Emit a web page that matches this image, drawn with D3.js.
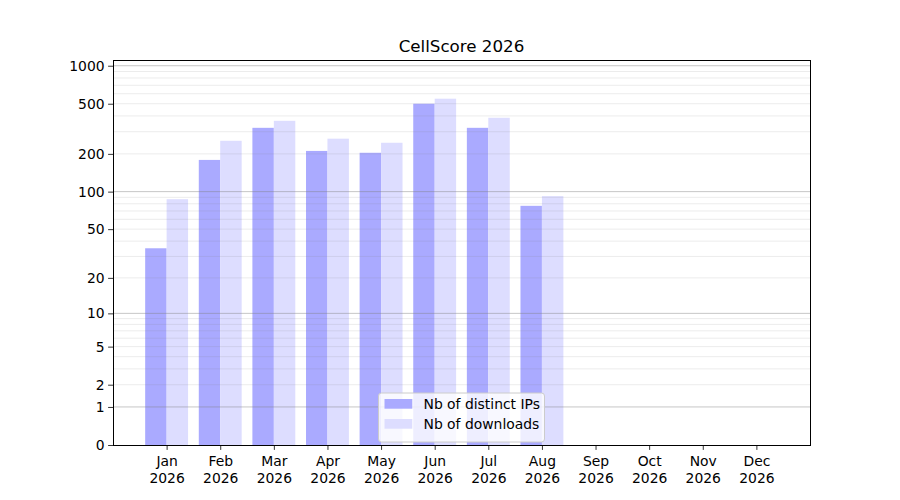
<!DOCTYPE html>
<html>
<head>
<meta charset="utf-8">
<script src="https://cdn.jsdelivr.net/npm/d3@7"></script>
<style>
    body { margin: 0; background: #fff; }
    text { font-family: "DejaVu Sans", sans-serif; fill: #000; }
</style>
</head>
<body>
<div id="chart"></div>
<script>
const MONTHS = ["Jan", "Feb", "Mar", "Apr", "May", "Jun", "Jul", "Aug", "Sep", "Oct", "Nov", "Dec"];
const YEAR = "2026";
const DISTINCT_IPS = [35, 179, 322, 211, 204, 500, 322, 77];
const DOWNLOADS = [87, 254, 366, 264, 245, 548, 387, 92];
const Y_TICKS = [0, 1, 2, 5, 10, 20, 50, 100, 200, 500, 1000];
const MAJOR_GRID = [1, 10, 100, 1000];
const MINOR_GRID = [2, 3, 4, 5, 6, 7, 8, 9, 20, 30, 40, 50, 60, 70, 80, 90,
    200, 300, 400, 500, 600, 700, 800, 900];

const width = 900;
const height = 500;
const margin = { top: 60, right: 90, bottom: 55, left: 113 };
const plotWidth = width - margin.left - margin.right;
const plotHeight = height - margin.top - margin.bottom;

const svg = d3.select("#chart").append("svg")
    .attr("width", width)
    .attr("height", height);

const nullpoint = svg.append("g")
    .attr("transform", `translate(${margin.left}, ${margin.top})`);

const xScale = d3.scaleLinear()
    .domain([-1, 12])
    .range([0, plotWidth]);

const yScale = d3.scaleSymlog()
    .constant(1)
    .domain([0, 1110])
    .range([plotHeight, 0]);

const barWidth = xScale(0.4) - xScale(0);

// bars
nullpoint.selectAll(".ips")
    .data(DISTINCT_IPS)
    .enter()
    .append("rect")
    .attr("class", "ips")
    .attr("x", (d, i) => xScale(i - 0.4))
    .attr("y", d => yScale(d))
    .attr("width", barWidth)
    .attr("height", d => plotHeight - yScale(d))
    .style("fill", "#aaaaff");

nullpoint.selectAll(".downloads")
    .data(DOWNLOADS)
    .enter()
    .append("rect")
    .attr("class", "downloads")
    .attr("x", (d, i) => xScale(i))
    .attr("y", d => yScale(d))
    .attr("width", barWidth)
    .attr("height", d => plotHeight - yScale(d))
    .style("fill", "#ddddff");

// grid on top of bars like matplotlib
nullpoint.selectAll(".minor-grid")
    .data(MINOR_GRID)
    .enter()
    .append("line")
    .attr("x1", 0)
    .attr("x2", plotWidth)
    .attr("y1", d => yScale(d))
    .attr("y2", d => yScale(d))
    .attr("stroke", "#808080")
    .attr("stroke-opacity", 0.15)
    .attr("stroke-width", 1);

nullpoint.selectAll(".major-grid")
    .data(MAJOR_GRID)
    .enter()
    .append("line")
    .attr("x1", 0)
    .attr("x2", plotWidth)
    .attr("y1", d => yScale(d))
    .attr("y2", d => yScale(d))
    .attr("stroke", "#808080")
    .attr("stroke-opacity", 0.45)
    .attr("stroke-width", 1);

// axes
const xAxis = nullpoint.append("g")
    .attr("transform", `translate(0, ${plotHeight})`)
    .call(d3.axisBottom(xScale)
        .tickValues(d3.range(MONTHS.length))
        .tickSize(4.9)
        .tickPadding(3.5)
        .tickFormat(""));

xAxis.selectAll(".tick").append("text")
    .attr("y", 21)
    .attr("text-anchor", "middle")
    .style("font-size", "13.9px")
    .selectAll("tspan")
    .data(i => [MONTHS[i], YEAR])
    .enter()
    .append("tspan")
    .attr("x", 0)
    .attr("dy", (d, j) => j === 0 ? 0 : "1.2em")
    .text(d => d);

const yAxis = nullpoint.append("g")
    .call(d3.axisLeft(yScale)
        .tickValues(Y_TICKS)
        .tickSize(4.9)
        .tickPadding(3.5)
        .tickFormat(d3.format("d")));

[xAxis, yAxis].forEach(ax => {
    ax.select(".domain").remove();
    ax.selectAll(".tick line").attr("stroke", "#000").attr("stroke-width", 0.8);
});
yAxis.selectAll(".tick text")
    .style("font-size", "13.9px")
    .style("font-family", "DejaVu Sans")
    .attr("fill", "#000");

// frame
nullpoint.append("rect")
    .attr("width", plotWidth)
    .attr("height", plotHeight)
    .attr("fill", "none")
    .attr("stroke", "#000")
    .attr("stroke-width", 1)
    .attr("shape-rendering", "crispEdges");

// title
svg.append("text")
    .attr("x", margin.left + plotWidth / 2)
    .attr("y", margin.top - 8)
    .attr("text-anchor", "middle")
    .style("font-size", "16.7px")
    .text("CellScore 2026");

// legend, lower center
const legendItems = [
    { label: "Nb of distinct IPs", color: "#aaaaff" },
    { label: "Nb of downloads", color: "#ddddff" }
];
const legendW = 166;
const legendH = 49;
const legend = nullpoint.append("g")
    .attr("transform", `translate(${plotWidth / 2 - legendW / 2}, ${plotHeight - 3 - legendH})`);

legend.append("rect")
    .attr("width", legendW)
    .attr("height", legendH)
    .attr("rx", 3)
    .attr("fill", "#fff")
    .attr("fill-opacity", 0.8)
    .attr("stroke", "#cccccc")
    .attr("stroke-width", 1);

legend.selectAll(".item")
    .data(legendItems)
    .enter()
    .append("g")
    .attr("transform", (d, i) => `translate(6, ${6 + i * 20})`)
    .each(function (d) {
        const g = d3.select(this);
        g.append("rect")
            .attr("width", 27.8)
            .attr("height", 9.7)
            .attr("fill", d.color);
        g.append("text")
            .attr("x", 39)
            .attr("y", 10)
            .style("font-size", "13.9px")
            .text(d.label);
    });
</script>
</body>
</html>
